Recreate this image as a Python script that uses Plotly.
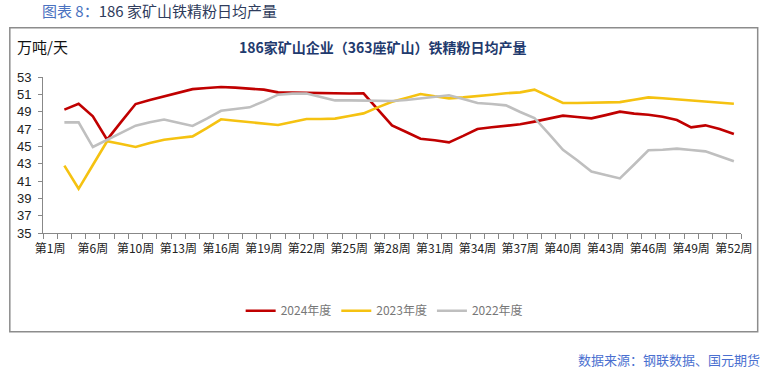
import plotly.graph_objects as go

weeks = [1, 2, 4, 6, 7, 8] + list(range(10, 53))
categories = [f"第{w}周" for w in weeks]
label_weeks = [1, 6] + list(range(10, 53, 3))
tick_text = [c if w in label_weeks else "" for w, c in zip(weeks, categories)]

y2024 = [None, 49.23, 49.9, 48.46, 45.77, 47.85, 49.88, 50.35, 50.77, 51.19, 51.6,
         51.73, 51.85, 51.77, 51.65, 51.54, 51.23, 51.2, 51.15, 51.08, 51.1, 51.1,
         51.12, 49.27, 47.42, 46.65, 45.88, 45.7, 45.46, 46.2, 47.0, 47.2, 47.38,
         47.54, 47.85, 48.19, 48.54, 48.38, 48.23, 48.6, 49.0, 48.77, 48.65, 48.42,
         48.04, 47.19, 47.42, 47.0, 46.42]
y2023 = [None, 42.77, 40.1, 42.85, 45.58, 45.27, 44.92, 45.38, 45.77, 45.96, 46.15,
         47.1, 48.12, 47.96, 47.8, 47.7, 47.46, 47.8, 48.15, 48.15, 48.2, 48.5,
         48.8, 49.5, 50.15, 50.58, 51.04, 50.77, 50.54, 50.65, 50.77, 50.96, 51.12,
         51.23, 51.54, 50.77, 50.0, 50.0, 50.04, 50.08, 50.1, 50.38, 50.65, 50.54,
         50.42, 50.27, 50.15, 50.04, 49.92]
y2022 = [None, 47.77, 47.77, 44.92, 45.77, 46.6, 47.38, 47.77, 48.1, 47.73, 47.35,
         48.2, 49.1, 49.3, 49.5, 50.19, 50.96, 51.08, 51.1, 50.7, 50.3, 50.3,
         50.3, 50.27, 50.23, 50.35, 50.54, 50.7, 50.9, 50.46, 50.0, 49.88, 49.73,
         48.96, 48.27, 46.46, 44.6, 43.4, 42.1, 41.7, 41.3, 42.9, 44.54, 44.6,
         44.73, 44.58, 44.42, 43.85, 43.27]

series = [("2024年度", y2024, "#C00000"),
          ("2023年度", y2023, "#F5C211"),
          ("2022年度", y2022, "#BFBFBF")]

W, H = 778, 375
L, R = 42.7, 741.0
T, B = 77.3, 233.3

def px(x):
    return (x - L) / (R - L)

def py(y):
    return (B - y) / (B - T)

fig = go.Figure()
for name, vals, col in series:
    fig.add_trace(go.Scatter(x=categories, y=vals, name=name, mode="lines",
                             line=dict(color=col, width=2.6), connectgaps=False))

cjk = "Noto Sans CJK SC, Liberation Sans, sans-serif"
fig.update_layout(
    width=W, height=H,
    margin=dict(l=L, r=W - R, t=T, b=H - B, pad=0),
    paper_bgcolor="white", plot_bgcolor="white",
    font=dict(family=cjk, size=12, color="#222"),
    showlegend=True,
    legend=dict(orientation="h", xanchor="center", yanchor="middle",
                x=px(384), y=py(311), font=dict(size=12, color="#777"),
                itemwidth=30, bgcolor="rgba(0,0,0,0)", tracegroupgap=0),
    xaxis=dict(type="category", categoryorder="array", categoryarray=categories,
               range=[-0.5, len(categories) - 0.5],
               tickmode="array", tickvals=categories, ticktext=tick_text,
               tickson="boundaries", ticks="outside", ticklen=5, tickcolor="#888",
               showline=True, linecolor="#888", linewidth=1, showgrid=False,
               zeroline=False, tickangle=0, ticklabelstandoff=5,
               tickfont=dict(family=cjk, size=12, color="#222")),
    yaxis=dict(range=[35, 53], dtick=2, tick0=35, ticks="outside", ticklen=4,
               tickcolor="#888", showline=True, linecolor="#888", linewidth=1,
               showgrid=False, zeroline=False, ticklabelstandoff=4,
               tickfont=dict(family="Liberation Sans, Arial", size=13, color="#222")),
)

fig.add_shape(type="rect", xref="paper", yref="paper",
              x0=px(9.5), x1=px(757.7), y0=py(332), y1=py(28),
              line=dict(color="#8c8c8c", width=1.5), fillcolor="rgba(0,0,0,0)")

def ann(text, x, y, size, color, xanchor="left", family=cjk):
    fig.add_annotation(text=text, xref="paper", yref="paper", x=px(x), y=py(y),
                       xanchor=xanchor, yanchor="middle", showarrow=False,
                       font=dict(size=size, color=color, family=family))

ann("<span style='color:#4a72c0'>图表 8：</span>186 家矿山铁精粉日均产量", 40, 11, 15, "#2f3c5c")
ann("万吨/天", 15, 47, 15, "#111")
ann("<b>186家矿山企业（363座矿山）铁精粉日均产量</b>", 383, 47, 14, "#1f3a6e", xanchor="center")
ann("数据来源：钢联数据、国元期货", 762, 360, 13, "#4a6fd0", xanchor="right")

fig.write_html("out.html", config={"displayModeBar": False},
               post_script="document.body.style.margin='0';document.body.style.padding='0';")
